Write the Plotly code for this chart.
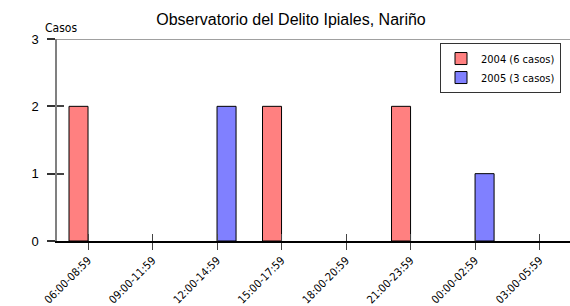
import plotly.graph_objects as go

categories = ["06:00-08:59", "09:00-11:59", "12:00-14:59", "15:00-17:59",
              "18:00-20:59", "21:00-23:59", "00:00-02:59", "03:00-05:59"]
casos_2004 = [2, 0, 0, 2, 0, 2, 0, 0]
casos_2005 = [0, 0, 2, 0, 0, 0, 1, 0]
y_ticks = [0, 1, 2, 3]
title_text = "Observatorio del Delito Ipiales, Nariño"
y_title = "Casos"

narrow = "DejaVu Sans Condensed, Liberation Sans Narrow, Arial Narrow, sans-serif"
regular = "Liberation Sans, Arial, sans-serif"

n = len(categories)
x_range = [-0.481, n - 0.528]


def hide_zero(vals):
    return [v if v else None for v in vals]


fig = go.Figure()
fig.add_trace(go.Bar(x=categories, y=hide_zero(casos_2004), name="2004 (6 casos)",
                     marker=dict(color="#FF8080", line=dict(color="black", width=1))))
fig.add_trace(go.Bar(x=categories, y=hide_zero(casos_2005), name="2005 (3 casos)",
                     marker=dict(color="#8080FF", line=dict(color="black", width=1))))

fig.update_layout(
    width=570, height=306,
    margin=dict(l=57, r=0, t=39, b=65, autoexpand=False),
    paper_bgcolor="white", plot_bgcolor="white",
    barmode="group", bargap=0.41, bargroupgap=0,
    title=dict(text=title_text, x=291/570, xanchor="center", y=0.935, yanchor="middle",
               font=dict(family=regular, size=16, color="black")),
    showlegend=True,
    legend=dict(x=(561-57)/513, y=0.98, xanchor="right", yanchor="top",
                bordercolor="#333333", borderwidth=1, bgcolor="white",
                font=dict(family=narrow, size=11, color="black"),
                itemwidth=30, tracegroupgap=0),
    xaxis=dict(type="category", categoryorder="array", categoryarray=categories,
               range=x_range, showline=True, linecolor="black", linewidth=1.5,
               ticks="outside", ticklen=7, tickcolor="#444", tickwidth=1,
               tickangle=-45, tickfont=dict(family=narrow, size=11, color="black"),
               showgrid=False, zeroline=False, automargin=False),
    xaxis2=dict(overlaying="x", anchor="y", range=x_range, tickmode="array",
                tickvals=list(range(n)), showticklabels=False, ticks="inside",
                ticklen=7, tickcolor="#444", tickwidth=1, showline=False,
                showgrid=False, zeroline=False),
    yaxis=dict(range=[0, 3], tickmode="array", tickvals=y_ticks,
               showline=True, linecolor="#808080", linewidth=1.5,
               ticks="outside", ticklen=8, tickcolor="#333", tickwidth=1.5,
               ticklabelstandoff=6, automargin=False,
               tickfont=dict(family=regular, size=13, color="black"),
               showgrid=False, zeroline=False),
    yaxis2=dict(overlaying="y", anchor="x", side="left", range=[0, 3],
                tickmode="array", tickvals=y_ticks, showticklabels=False,
                ticks="inside", ticklen=7, tickcolor="#444", tickwidth=1.5,
                showline=False, showgrid=False, zeroline=False),
    shapes=[dict(type="line", xref="paper", yref="y", x0=0, x1=1, y0=3, y1=3,
                 line=dict(color="#808080", width=1.5), layer="below")],
    annotations=[dict(text=y_title, xref="paper", yref="paper", x=4/513, y=1.0,
                      xanchor="center", yanchor="bottom", showarrow=False, yshift=2,
                      font=dict(family=narrow, size=12, color="black"))],
)
# invisible trace so the overlay axes render their ticks
fig.add_trace(go.Scatter(x=[0], y=[0], xaxis="x2", yaxis="y2", mode="markers",
                         marker=dict(opacity=0), showlegend=False, hoverinfo="skip"))

fig.write_html("out.html", config={"displayModeBar": False},
               post_script="document.body.style.margin='0';")
